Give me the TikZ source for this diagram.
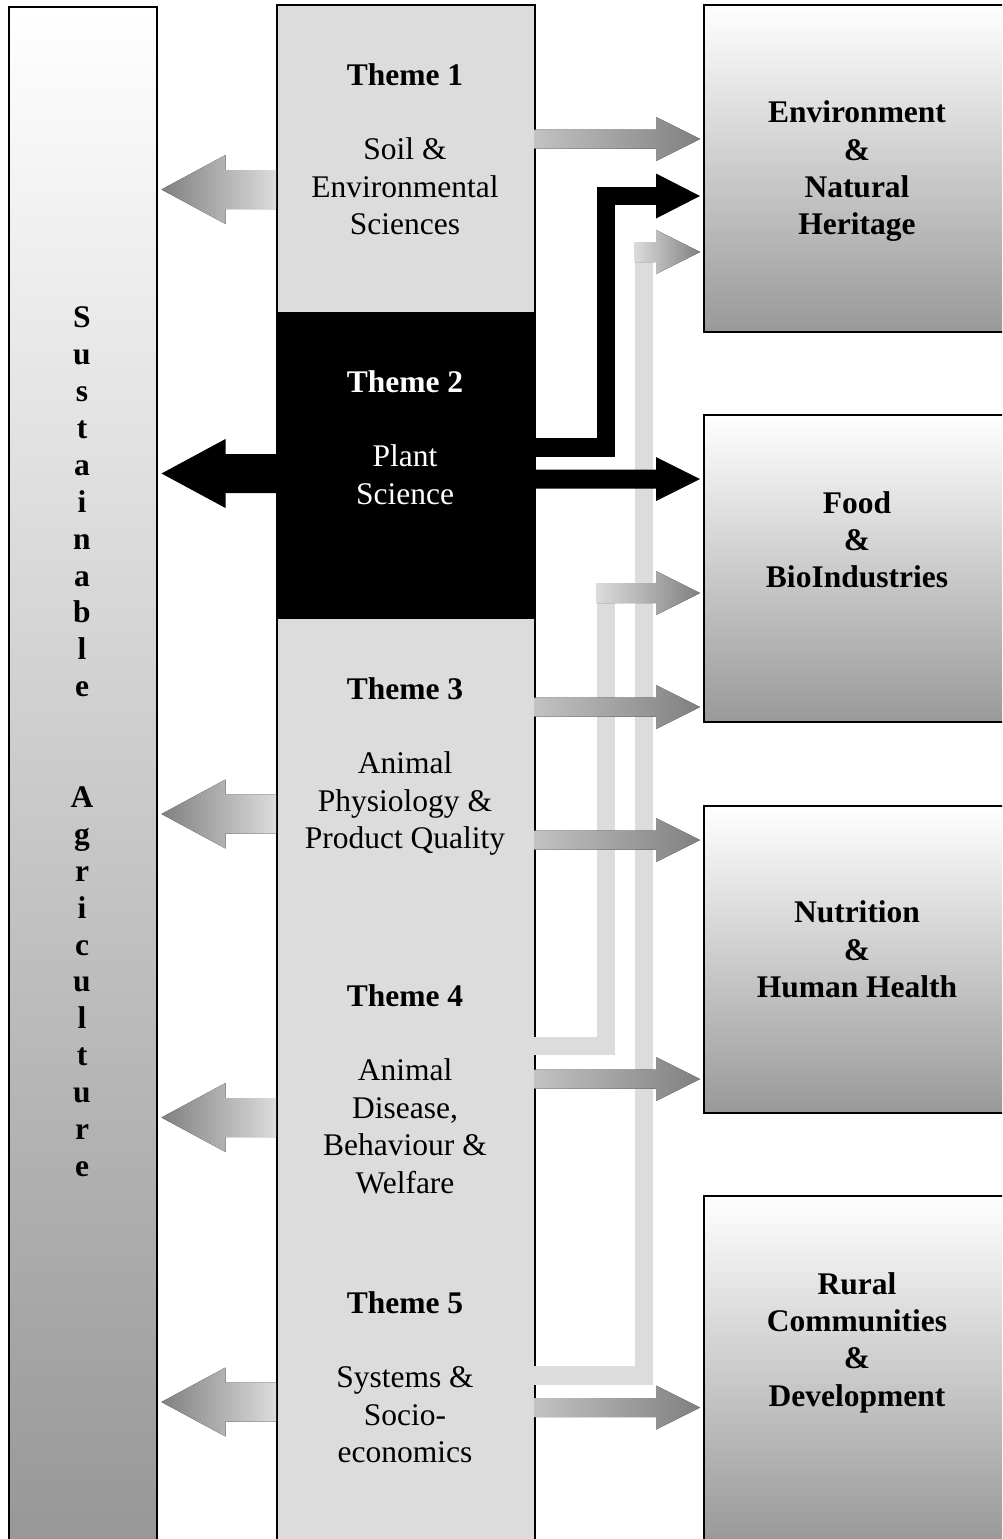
\documentclass[tikz,border=0pt]{standalone}
\usepackage{fontspec}
\setmainfont{Liberation Serif}
\usetikzlibrary{calc}
\definecolor{secgray}{RGB}{220,220,220}
\definecolor{boxgray}{RGB}{153,153,153}
\definecolor{arrdark}{RGB}{128,128,128}
\definecolor{arrmid}{RGB}{194,194,194}
\newcommand\bigtxt{\fontsize{31.5}{37.4}\selectfont}
\newcommand\lettertxt{\fontsize{31.5}{36.9}\selectfont\bfseries}
% block arrow from a theme to the outcome column (shaft y centre #2)
\newcommand\rarrow[3]{%
  \fill[#3] (#1.east |- 0,{#2-9.5}) -- (rhead |- 0,{#2-9.5}) -- (rhead |- 0,{#2-22})
    -- (rtip |- 0,#2) -- (rhead |- 0,{#2+22}) -- (rhead |- 0,{#2+9.5})
    -- (#1.east |- 0,{#2+9.5}) -- cycle;}
% block arrow from a theme to the left column
\newcommand\larrow[3]{%
  \fill[#3] (#1.west |- 0,{#2-19.5}) -- (lhead |- 0,{#2-19.5}) -- (lhead |- 0,{#2-34.5})
    -- (ltip |- 0,#2) -- (lhead |- 0,{#2+34.5}) -- (lhead |- 0,{#2+19.5})
    -- (#1.west |- 0,{#2+19.5}) -- cycle;}
% arrow head (with a short shaded shaft) ending an elbow line
\newcommand\elbowhead[3]{%
  \fill[#3] (#1 |- 0,{#2-10}) -- (rhead |- 0,{#2-10}) -- (rhead |- 0,{#2-22})
    -- (rtip |- 0,#2) -- (rhead |- 0,{#2+22}) -- (rhead |- 0,{#2+10})
    -- (#1 |- 0,{#2+10}) -- cycle;}
\begin{document}
\begin{tikzpicture}[x=1pt,y=-1pt,
  frame/.style={draw=black, line width=1.5pt},
  sec/.style={rectangle, inner sep=0pt, minimum width=258pt, minimum height=307.6pt,
    anchor=north west, fill=secgray},
  outbox/.style={rectangle, frame, inner sep=0pt, minimum width=320pt, anchor=north west,
    top color=white, bottom color=boxgray},
  txt/.style={anchor=north, align=center, inner sep=0pt, font=\bigtxt},
  btxt/.style={txt, font=\bigtxt\bfseries},
  grayright/.style={left color=arrmid, right color=arrdark},
  grayleft/.style={left color=arrdark, right color=secgray},
  elbowline/.style={line width=18.5pt, line join=miter},
  elbowshade/.style={left color=secgray, right color=arrdark}]
\useasboundingbox (0,0) rectangle (1002,1539);
\clip (0,0) rectangle (1002,1539);

% left column
\node[rectangle, frame, inner sep=0pt, minimum width=148pt, minimum height=1545pt,
  anchor=north west, top color=white, bottom color=black!41] (sust) at (8,6) {};
\node[anchor=north, align=center, inner sep=0pt, font=\lettertxt] (sustlbl) at (82,301.7)
  {\strut S\\u\\s\\t\\a\\i\\n\\a\\b\\l\\e\\ \\ \\A\\g\\r\\i\\c\\u\\l\\t\\u\\r\\e};

% theme column
\node[sec] (t1) at (276,4) {};
\node[sec, fill=black] (t2) at (276,311.6) {};
\node[sec] (t3) at (276,619.2) {};
\node[sec] (t4) at (276,926.8) {};
\node[sec, minimum height=320pt] (t5) at (276,1234.4) {};
\node[rectangle, frame, inner sep=0pt, minimum width=258pt, minimum height=1545pt,
  anchor=north west] (col) at (276,4) {};

\node[txt] (l1) at (405,58.8) {\strut\textbf{Theme 1}\\ \\Soil \&\\Environmental\\Sciences};
\node[txt, text=white] (l2) at (405,365.8) {\strut\textbf{Theme 2}\\ \\Plant\\Science};
\node[txt] (l3) at (405,672.8) {\strut\textbf{Theme 3}\\ \\Animal\\Physiology \&\\Product Quality};
\node[txt] (l4) at (405,979.8) {\strut\textbf{Theme 4}\\ \\Animal\\Disease,\\Behaviour \&\\Welfare};
\node[txt] (l5) at (405,1286.8) {\strut\textbf{Theme 5}\\ \\Systems \&\\Socio-\\economics};

% outcome column
\node[outbox, minimum height=327pt] (env) at (703,4) {};
\node[outbox, minimum height=307pt] (food) at (703,414) {};
\node[outbox, minimum height=307pt] (nutr) at (703,805) {};
\node[outbox, minimum height=370pt, bottom color=black!43] (rural) at (703,1195) {};

\node[btxt] (envlbl) at (857,96.3) {\strut Environment\\\&\\Natural\\Heritage};
\node[btxt] (foodlbl) at (857,486.8) {\strut Food\\\&\\BioIndustries};
\node[btxt] (nutrlbl) at (857,896.3) {\strut Nutrition\\\&\\Human Health};
\node[btxt] (rurallbl) at (857,1267.8) {\strut Rural\\Communities\\\&\\Development};

% reference points for the arrow heads and the elbow lines
\coordinate (rtip) at ([xshift=-3pt]env.west);
\coordinate (rhead) at ([xshift=-47pt]env.west);
\coordinate (ltip) at ([xshift=4pt]sust.east);
\coordinate (lhead) at ([xshift=68pt]sust.east);
\coordinate (busA) at ([xshift=70.5pt]col.east);
\coordinate (busB) at ([xshift=108.5pt]col.east);
\coordinate (busAl) at ([xshift=61pt]col.east);
\coordinate (busBl) at ([xshift=99pt]col.east);

% light elbow connectors (drawn beneath the others)
\draw[elbowline, secgray] (t5.east |- 0,1375.5) -- (busB |- 0,1375.5) -- (busB |- 0,252) -- (busBl |- 0,252);
\elbowhead{busBl}{252}{elbowshade}
\draw[elbowline, secgray] (t4.east |- 0,1046) -- (busA |- 0,1046) -- (busA |- 0,593) -- (busAl |- 0,593);
\elbowhead{busAl}{593}{elbowshade}

% black connectors from Theme 2
\draw[elbowline, black] (t2.east |- 0,447.5) -- (busA |- 0,447.5) -- (busA |- 0,196) -- (rhead |- 0,196);
\fill[black] (rhead |- 0,173.5) -- (rtip |- 0,196) -- (rhead |- 0,218.5) -- cycle;
\rarrow{t2}{479}{black}
\larrow{t2}{473.5}{black}

% grey connectors
\rarrow{t1}{139}{grayright}
\rarrow{t3}{707}{grayright}
\rarrow{t3}{840}{grayright}
\rarrow{t4}{1079}{grayright}
\rarrow{t5}{1407.5}{grayright}

\larrow{t1}{189.5}{grayleft}
\larrow{t3}{814}{grayleft}
\larrow{t4}{1117.5}{grayleft}
\larrow{t5}{1402}{grayleft}
\end{tikzpicture}
\end{document}
